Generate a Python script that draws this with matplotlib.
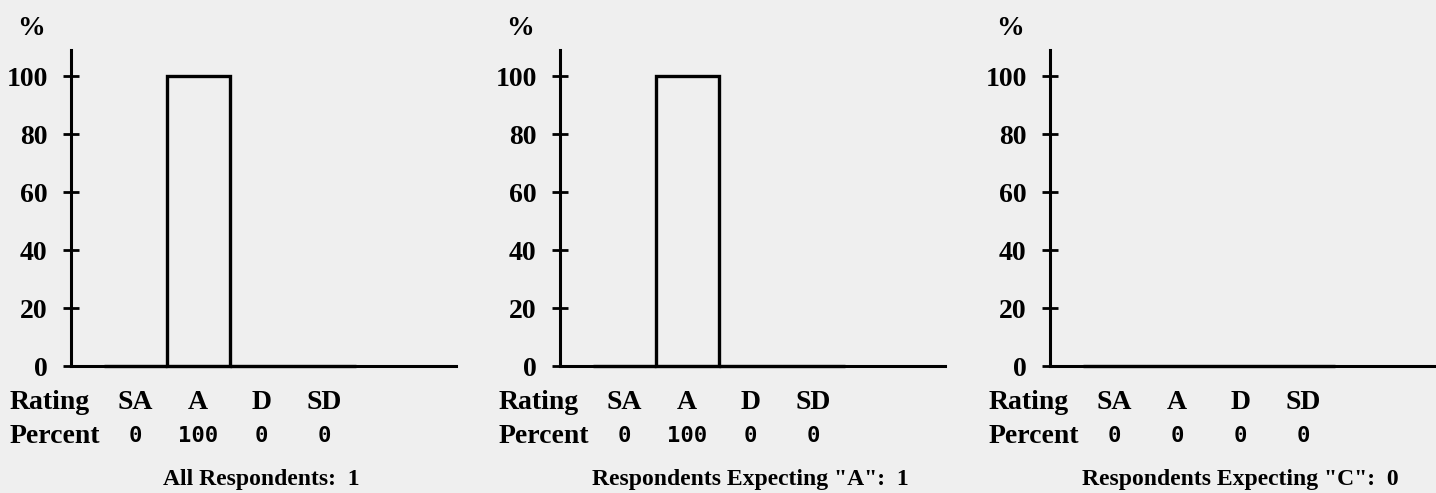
import numpy as np
import matplotlib
matplotlib.use("Agg")
import matplotlib.pyplot as plt

# data
categories = ["SA", "A", "D", "SD"]
pct_all = [0, 100, 0, 0]
pct_a = [0, 100, 0, 0]
pct_c = [0, 0, 0, 0]
panel_titles = ['All Respondents:  1',
                'Respondents Expecting "A":  1',
                'Respondents Expecting "C":  0']
yticks = [0, 20, 40, 60, 80, 100]

serif = "Liberation Serif"
mono = "DejaVu Sans Mono"
bg = "#efefef"

fig = plt.figure(figsize=(14.36, 4.93), dpi=100, facecolor=bg)

W, H = 1436.0, 493.0
lefts = [71, 560, 1050]
ax_w = 385
ax_bottom = 127
ax_h = 316

for left, vals, title in zip(lefts, [pct_all, pct_a, pct_c], panel_titles):
    ax = fig.add_axes([left / W, ax_bottom / H, ax_w / W, ax_h / H])
    ax.set_facecolor("none")
    x = np.arange(len(categories))
    ax.bar(x, vals, width=1.0, fill=False, edgecolor="black",
           linewidth=2.4, clip_on=False)
    ax.set_xlim(-1.02, 5.09)
    ax.set_ylim(0, 109)
    for s in ["top", "right"]:
        ax.spines[s].set_visible(False)
    for s in ["left", "bottom"]:
        ax.spines[s].set_linewidth(2.2)
    ax.set_xticks([])
    ax.set_yticks(yticks)
    ax.tick_params(axis="y", direction="inout", length=11.5, width=2.0,
                   pad=11)
    for lab in ax.get_yticklabels():
        lab.set_fontfamily(serif)
        lab.set_fontweight("bold")
        lab.set_fontsize(20)

    tr = ax.get_xaxis_transform()
    ax.text(-1.655, 1.069, "%", transform=tr, ha="center", va="center",
            fontfamily=serif, fontweight="bold", fontsize=20)
    ax.text(-1.99, -0.114, "Rating", transform=tr, ha="left", va="center",
            fontfamily=serif, fontweight="bold", fontsize=20)
    ax.text(-1.99, -0.224, "Percent", transform=tr, ha="left", va="center",
            fontfamily=serif, fontweight="bold", fontsize=20)
    for xi, cat, v in zip(x, categories, vals):
        ax.text(xi, -0.114, cat, transform=tr, ha="center", va="center",
                fontfamily=serif, fontweight="bold", fontsize=20)
        ax.text(xi, -0.222, str(v), transform=tr, ha="center", va="center",
                fontfamily=mono, fontweight="bold", fontsize=16)
    ax.text(2.0, -0.36, title, transform=tr, ha="center", va="center",
            fontfamily=serif, fontweight="bold", fontsize=17)

fig.savefig("out.png", dpi=100, facecolor=bg)
